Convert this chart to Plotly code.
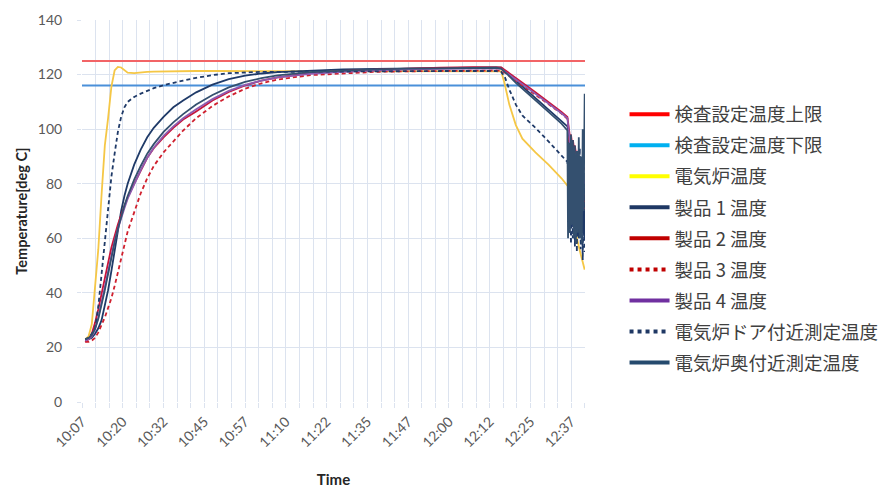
import plotly.graph_objects as go

# ---------------- data ----------------
# time in minutes after 10:07:30
TIME_MIN = [1, 2, 3, 4, 5, 6, 7, 8, 9, 10, 11, 12, 13, 14, 16, 18, 20, 22, 25, 28, 31, 35,
            40, 45, 50, 55, 60, 70, 80, 90, 100, 110, 120, 127,
            128.5, 129.5, 131, 133, 135, 139, 143, 147, 148.8,
            149.0, 149.3, 149.6, 149.9, 150.2, 150.5, 150.8, 151.1, 151.4, 151.7, 152.0,
            152.3, 152.6, 152.9, 153.2, 153.5, 153.8, 154.1]

TICK_LABELS = ["10:07", "10:20", "10:32", "10:45", "10:57", "11:10", "11:22",
               "11:35", "11:47", "12:00", "12:12", "12:25", "12:37"]
LABEL_STEP_SEC = 750         # one labelled tick every 12.5 min
GRID_STEP_SEC = 250          # a gridline every third of that
X_START_MIN, X_END_MIN = 0, 154.2

UPPER_LIMIT = 125
LOWER_LIMIT = 116

FURNACE = [23, 24, 28.5, 41.5, 56, 76, 94, 104, 115.5, 121.5, 122.8, 122.6, 121.6, 120.7, 120.5,
           120.8, 121, 121.1, 121.2, 121.2, 121.3, 121.3, 121.3, 121.3, 121.4, 121.4, 121.4,
           121.4, 121.4, 121.4, 121.4, 121.4, 121.4, 121.4,
           121.2, 117, 109, 101.5, 96.5, 91.5, 87, 82, 79.5,
           79, 77.5, 75.5, 73.5, 71, 68, 66, 63.5, 61.5, 60, 58.5, 57, 55.5, 54, 52.5, 51, 49.5, 48.5]

PRODUCT1 = [22.5, 23, 23.5, 25, 27, 30, 35, 41, 48, 55.5, 63, 70, 75.5, 80, 87, 92.5, 97, 100.5,
            104.5, 108, 110.5, 113.5, 116.3, 118.3, 119.6, 120.4, 120.9, 121.5, 121.9, 122.1,
            122.3, 122.5, 122.6, 122.6,
            122.5, 121.6, 120, 117.8, 115.7, 111.5, 107.3, 103, 101,
            100, 80, 97, 75, 95, 72, 94, 70, 92, 68, 90, 66, 88, 64, 86, 62, 84, 60]

PRODUCT2 = [22, 23, 25, 29, 34, 40, 45.5, 51, 56.5, 61, 65, 68.5, 72, 75, 80, 85, 89.5, 93, 97,
            100.5, 103.5, 106.5, 110.5, 113.6, 116, 117.8, 119, 120.5, 121.3, 121.8, 122.2,
            122.5, 122.7, 122.8,
            122.6, 121.8, 120.4, 118.7, 117, 113.5, 110, 106.3, 104.5,
            103, 99, 97, 98, 95, 96, 93, 94, 91, 92, 90, 90, 88, 89, 87, 87, 85, 86]

PRODUCT3 = [22, 22, 22.5, 23.5, 25.5, 28, 31, 34.5, 38, 42.5, 47.5, 52.5, 57.5, 62.5, 69.5, 76.5,
            82, 86.5, 91.5, 95.5, 99.5, 104, 108.5, 112, 114.8, 116.8, 118.2, 119.8, 120.5, 121,
            121.2, 121.4, 121.5, 121.5,
            121.4, 120.8, 119.5, 117.8, 116.2, 112.8, 109.3, 105.7, 103.8,
            102, 95, 97, 90, 94, 86, 91, 83, 88, 80, 85, 78, 82, 75, 79, 72, 76, 70]

PRODUCT4 = [22.5, 23, 24, 26.5, 31, 36.5, 42.5, 48.5, 54, 59, 63.5, 67.5, 71, 74.5, 80, 85, 89.5,
            93.2, 97.5, 101, 104, 107.3, 111, 114, 116.2, 117.8, 119, 120.3, 121, 121.5, 121.9,
            122.1, 122.3, 122.3,
            122.1, 121.3, 119.9, 118.2, 116.5, 113, 109.5, 105.8, 104,
            102, 97, 95, 96, 92, 93, 90, 91, 88, 89, 86, 87, 84, 85, 82, 83, 80, 81]

DOOR = [23, 23.5, 25, 27, 35, 47, 59.5, 71, 82.5, 91, 99, 104.5, 108, 110, 111.8, 113, 114, 115,
        116.1, 117, 117.8, 118.8, 119.8, 120.5, 120.8, 121, 121, 121.1, 121.2, 121.2, 121.3,
        121.3, 121.3, 121.3,
        121, 119.5, 114.5, 109, 105, 100.5, 95.5, 90.5, 88,
        86, 62, 90, 58, 88, 60, 92, 57, 87, 55, 90, 60, 93, 56, 85, 52, 80, 55]

BACK = [23, 23.5, 24.5, 27, 30.5, 35.5, 41, 47, 53, 58.5, 63.5, 68, 72, 75.5, 81.5, 86.5, 91,
        94.5, 99, 102.5, 105.5, 109, 112.5, 115.3, 117.3, 118.7, 119.7, 120.9, 121.5, 121.9,
        122.2, 122.4, 122.5, 122.5,
        122.2, 121.2, 119.4, 117, 114.8, 110.5, 106.3, 102, 99.5,
        60, 95, 62, 98, 65, 96, 60, 94, 58, 92, 62, 97, 60, 90, 58, 100, 70, 113]

NAMES = ["検査設定温度上限", "検査設定温度下限", "電気炉温度", "製品 1 温度", "製品 2 温度",
         "製品 3 温度", "製品 4 温度", "電気炉ドア付近測定温度", "電気炉奥付近測定温度"]

# ---------------- styles ----------------
PLOT_COLORS = ["#F26466", "#4A90D9", "#F5C746", "#1F3A68", "#C8143A", "#D0202E",
               "#8E5BB0", "#1F3A68", "#34506F"]
LEGEND_COLORS = ["#FF0000", "#00B0F0", "#FFFF00", "#1F3864", "#C00000", "#C00000",
                 "#7030A0", "#1F3864", "#254A6E"]
DASHES = ["solid", "solid", "solid", "solid", "solid", "4px,3px", "solid", "4px,3px", "solid"]
LEGEND_DASHES = ["solid", "solid", "solid", "solid", "solid", "dot", "solid", "dot", "solid"]

series_y = [None, None, FURNACE, PRODUCT1, PRODUCT2, PRODUCT3, PRODUCT4, DOOR, BACK]

time_sec = [t * 60 for t in TIME_MIN]
x_range = [X_START_MIN * 60, X_END_MIN * 60]

fig = go.Figure()

# limit lines
for i, val in enumerate([UPPER_LIMIT, LOWER_LIMIT]):
    fig.add_trace(go.Scatter(x=x_range, y=[val, val], mode="lines",
                             line=dict(color=PLOT_COLORS[i], width=2),
                             showlegend=False, hoverinfo="skip"))

for i in range(2, 9):
    fig.add_trace(go.Scatter(x=time_sec, y=series_y[i], mode="lines",
                             line=dict(color=PLOT_COLORS[i], width=1.8, dash=DASHES[i]),
                             showlegend=False, name=NAMES[i]))

# legend entries
for i in range(9):
    fig.add_trace(go.Scatter(x=[None], y=[None], mode="lines", name=NAMES[i],
                             legendgroup=f"g{i}",
                             line=dict(color=LEGEND_COLORS[i], width=4, dash=LEGEND_DASHES[i])))

GRID = "#DCE3EF"
TICKFONT = dict(family="Lato, 'Open Sans', sans-serif", size=14, color="#595959")

# every gridline gets a tick; only every third one carries a time label
alias = {}
for k in range(0, int(x_range[1]) + GRID_STEP_SEC, GRID_STEP_SEC):
    idx, rem = divmod(k, LABEL_STEP_SEC)
    alias[str(k)] = TICK_LABELS[idx] if rem == 0 and idx < len(TICK_LABELS) else " "

fig.update_layout(
    width=878, height=488,
    margin=dict(l=82, r=293, t=20, b=86, autoexpand=False),
    paper_bgcolor="white", plot_bgcolor="white",
    xaxis=dict(
        range=x_range, automargin=False,
        tickmode="linear", tick0=0, dtick=GRID_STEP_SEC,
        tickformat="d", labelalias=alias,
        tickangle=-45,
        tickfont=TICKFONT,
        showgrid=True, gridcolor=GRID, gridwidth=1,
        ticks="outside", ticklen=5, tickcolor=GRID,
        zeroline=False, showline=False,
        title=dict(text="<b>Time</b>", font=dict(family="Lato, sans-serif", size=15, color="#262626"),
                   standoff=29),
    ),
    yaxis=dict(
        range=[0, 140], dtick=20, tick0=0, automargin=False,
        tickfont=TICKFONT,
        showgrid=True, gridcolor=GRID, gridwidth=1,
        ticks="outside", ticklen=4, tickcolor=GRID,
        ticklabelstandoff=12,
        zeroline=False, showline=False,
        title=dict(text="<b>Temperature[deg C]</b>",
                   font=dict(family="Lato, sans-serif", size=14.5, color="#262626"), standoff=6),
    ),
    legend=dict(
        x=1.0786, y=0.802, xanchor="left", yanchor="top",
        font=dict(family="'Noto Sans CJK JP', sans-serif", size=18.5, color="#404040"),
        tracegroupgap=4, itemwidth=40, bgcolor="rgba(0,0,0,0)",
    ),
)

fig.write_html("out.html", config={"displayModeBar": False},
               post_script="document.body.style.margin='0px';")
